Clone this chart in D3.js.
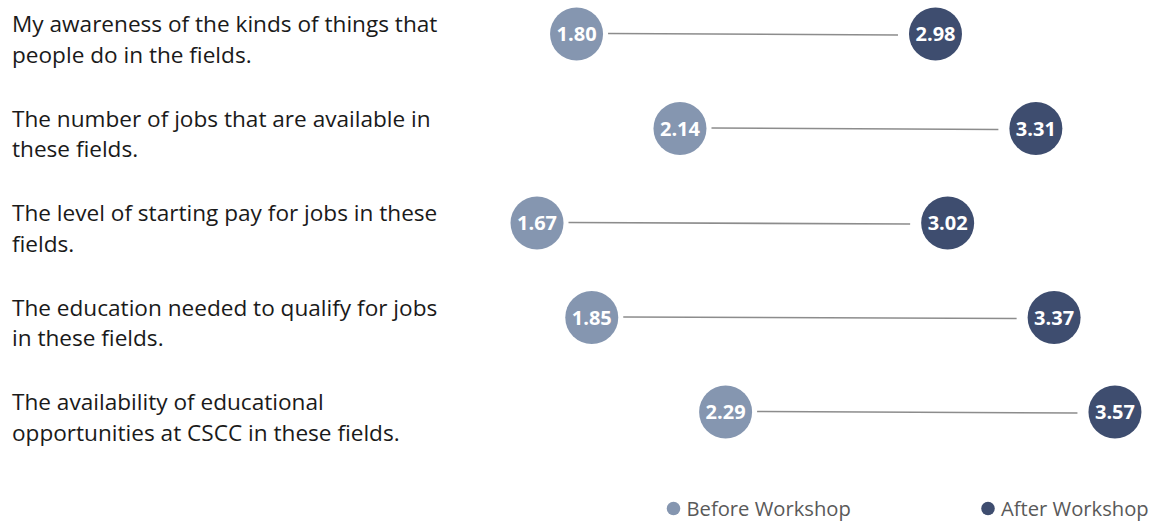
<!DOCTYPE html>
<html>
<head>
<meta charset="utf-8">
<script src="https://cdn.jsdelivr.net/npm/d3@7"></script>
<style>
  html, body { margin: 0; padding: 0; background: #fff; }
  svg { display: block; }
</style>
</head>
<body>
<svg id="chart" width="1160" height="521"></svg>
<script>
// Survey items (each split into its two display lines)
const categories = [
  ["My awareness of the kinds of things that", "people do in the fields."],
  ["The number of jobs that are available in", "these fields."],
  ["The level of starting pay for jobs in these", "fields."],
  ["The education needed to qualify for jobs", "in these fields."],
  ["The availability of educational", "opportunities at CSCC in these fields."]
];
const beforeValues = [1.80, 2.14, 1.67, 1.85, 2.29];
const afterValues  = [2.98, 3.31, 3.02, 3.37, 3.57];
const seriesNames  = ["Before Workshop", "After Workshop"];

const colors = { before: "#8596B0", after: "#3E4D6F", line: "#8c8c8c" };
const W = 1160, H = 521, R = 26.5;
const FONT = "'Open Sans', 'Noto Sans', sans-serif";

const svg = d3.select("#chart");

const x = d3.scaleLinear().domain([1.5, 3.7]).range([485.3, 1154.5]);
const y = d3.scalePoint().domain(d3.range(categories.length)).range([34, 412]);

const rows = categories.map((c, i) => ({ i, lines: c, before: beforeValues[i], after: afterValues[i] }));

// Category labels on the left
const labels = svg.append("g").selectAll("text").data(rows).join("text")
  .attr("x", 12)
  .attr("y", d => y(d.i) - 2)
  .attr("font-family", FONT)
  .attr("font-size", 22.6)
  .attr("fill", "#1a1a1a");
labels.selectAll("tspan").data(d => d.lines).join("tspan")
  .attr("x", 12)
  .attr("dy", (d, k) => k === 0 ? 0 : 30.5)
  .text(d => d);

// Connector lines between the two scores
svg.append("g").selectAll("line").data(rows).join("line")
  .attr("x1", d => x(d.before) + R + 5)
  .attr("x2", d => x(d.after) - R - 11)
  .attr("y1", d => y(d.i) - 0.5)
  .attr("y2", d => y(d.i) + 1)
  .attr("stroke", colors.line)
  .attr("stroke-width", 1.6);

// Score bubbles
function bubbles(key, fill) {
  const g = svg.append("g").selectAll("g").data(rows).join("g")
    .attr("transform", d => `translate(${x(d[key])},${y(d.i)})`);
  g.append("circle").attr("r", R).attr("fill", fill);
  g.append("text")
    .attr("text-anchor", "middle")
    .attr("dy", "0.36em")
    .attr("font-family", FONT)
    .attr("font-weight", 700)
    .attr("font-size", 20)
    .attr("fill", "#fff")
    .text(d => d[key].toFixed(2));
}
bubbles("before", colors.before);
bubbles("after", colors.after);

// Legend
const legendX = [673.5, 988];
const legend = svg.append("g").selectAll("g").data(seriesNames).join("g")
  .attr("transform", (d, i) => `translate(${legendX[i]},508.5)`);
legend.append("circle").attr("r", 6.8)
  .attr("fill", (d, i) => i === 0 ? colors.before : colors.after);
legend.append("text")
  .attr("x", 13)
  .attr("dy", "0.35em")
  .attr("font-family", FONT)
  .attr("font-size", 20.2)
  .attr("fill", "#595959")
  .text(d => d);
</script>
</body>
</html>
